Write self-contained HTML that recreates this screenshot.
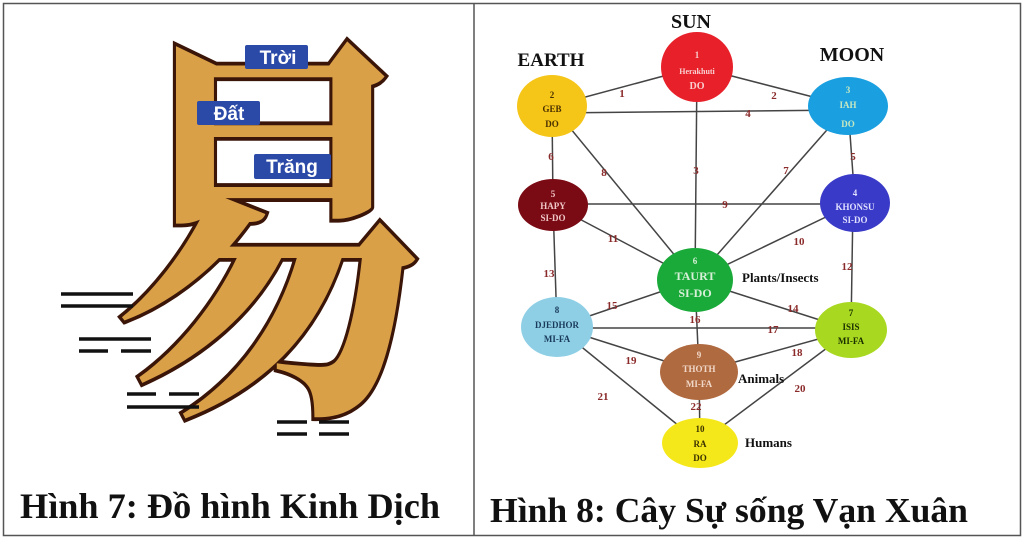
<!DOCTYPE html>
<html><head><meta charset="utf-8"><style>
body{margin:0;width:1024px;height:539px;background:#fff;overflow:hidden}
</style></head><body>
<svg width="1024" height="539" viewBox="0 0 1024 539" xmlns="http://www.w3.org/2000/svg">
<rect x="3.5" y="3.5" width="1017" height="532" fill="#fff" stroke="#555" stroke-width="1.5"/>
<line x1="474" y1="3" x2="474" y2="536" stroke="#555" stroke-width="1.5"/>
<g transform="matrix(0.885 0 0 1.09 35.7 -30.7)">
<text x="268" y="378" font-size="370" text-anchor="middle" font-family="'Noto Serif CJK SC','Noto Sans CJK SC',serif" fill="#d9a048" stroke="#3a1508" stroke-width="7" paint-order="stroke" font-weight="bold">易</text>
</g>
<g fill="#2b4aa8">
<rect x="245" y="45" width="63" height="24" rx="2"/>
<rect x="197" y="101" width="63" height="24" rx="2"/>
<rect x="254" y="154" width="77" height="25" rx="2"/>
</g>
<g fill="#fff" font-family="'Liberation Sans',sans-serif" font-weight="bold" font-size="19" text-anchor="middle">
<text x="278" y="64">Trời</text>
<text x="229" y="120">Đất</text>
<text x="292" y="173">Trăng</text>
</g>
<g stroke="#111" stroke-width="3.5">
<line x1="61" y1="294" x2="133" y2="294"/><line x1="61" y1="306" x2="133" y2="306"/>
<line x1="79" y1="339" x2="151" y2="339"/><line x1="79" y1="351" x2="108" y2="351"/><line x1="121" y1="351" x2="151" y2="351"/>
<line x1="127" y1="394" x2="156" y2="394"/><line x1="169" y1="394" x2="199" y2="394"/><line x1="127" y1="407" x2="199" y2="407"/>
<line x1="277" y1="422" x2="307" y2="422"/><line x1="319" y1="422" x2="349" y2="422"/>
<line x1="277" y1="434" x2="307" y2="434"/><line x1="319" y1="434" x2="349" y2="434"/>
</g>
<text x="20" y="518" font-family="'Liberation Serif',serif" font-weight="bold" font-size="36" fill="#111" textLength="420" lengthAdjust="spacingAndGlyphs">Hình 7: Đồ hình Kinh Dịch</text>
<g stroke="#444" stroke-width="1.5">
<line x1="552" y1="106" x2="697" y2="67"/>
<line x1="697" y1="67" x2="848" y2="106"/>
<line x1="552" y1="113" x2="848" y2="110"/>
<line x1="697" y1="67" x2="695" y2="280"/>
<line x1="552" y1="106" x2="553" y2="205"/>
<line x1="552" y1="106" x2="695" y2="280"/>
<line x1="848" y1="106" x2="695" y2="280"/>
<line x1="848" y1="106" x2="855" y2="203"/>
<line x1="553" y1="204" x2="855" y2="204"/>
<line x1="553" y1="205" x2="695" y2="280"/>
<line x1="855" y1="203" x2="695" y2="280"/>
<line x1="553" y1="205" x2="557" y2="327"/>
<line x1="853" y1="203" x2="851" y2="330"/>
<line x1="557" y1="327" x2="695" y2="280"/>
<line x1="695" y1="280" x2="851" y2="330"/>
<line x1="695" y1="280" x2="699" y2="372"/>
<line x1="557" y1="328" x2="851" y2="328"/>
<line x1="557" y1="327" x2="699" y2="372"/>
<line x1="851" y1="330" x2="699" y2="372"/>
<line x1="557" y1="327" x2="700" y2="443"/>
<line x1="851" y1="330" x2="700" y2="443"/>
<line x1="699" y1="372" x2="700" y2="443"/>
</g>
<g font-family="'Liberation Serif',serif" font-weight="bold" font-size="11" fill="#8b2a2a" text-anchor="middle">
<text x="622" y="97">1</text><text x="774" y="99">2</text><text x="748" y="117">4</text>
<text x="551" y="160">6</text><text x="604" y="176">8</text><text x="696" y="174">3</text>
<text x="786" y="174">7</text><text x="853" y="160">5</text><text x="725" y="208">9</text>
<text x="613" y="242">11</text><text x="799" y="245">10</text><text x="549" y="277">13</text>
<text x="847" y="270">12</text><text x="612" y="309">15</text><text x="793" y="312">14</text>
<text x="695" y="323">16</text><text x="773" y="333">17</text><text x="631" y="364">19</text>
<text x="797" y="356">18</text><text x="603" y="400">21</text><text x="800" y="392">20</text>
<text x="696" y="410">22</text>
</g>
<g>
<ellipse cx="697" cy="67" rx="36" ry="35" fill="#e8202a"/>
<ellipse cx="552" cy="106" rx="35" ry="31" fill="#f5c518"/>
<ellipse cx="848" cy="106" rx="40" ry="29" fill="#1aa0e0"/>
<ellipse cx="553" cy="205" rx="35" ry="26" fill="#7a0a14"/>
<ellipse cx="855" cy="203" rx="35" ry="29" fill="#3a3ac8"/>
<ellipse cx="695" cy="280" rx="38" ry="32" fill="#1aaa3a"/>
<ellipse cx="557" cy="327" rx="36" ry="30" fill="#8ecfe6"/>
<ellipse cx="851" cy="330" rx="36" ry="28" fill="#a8d820"/>
<ellipse cx="699" cy="372" rx="39" ry="28" fill="#b06a40"/>
<ellipse cx="700" cy="443" rx="38" ry="25" fill="#f5e81a"/>
</g>
<g font-family="'Liberation Serif',serif" font-weight="bold" font-size="9" text-anchor="middle">
<g fill="#f8d0d0"><text x="697" y="58">1</text><text x="697" y="74" font-size="8">Herakhuti</text><text x="697" y="89" font-size="10">DO</text></g>
<g fill="#4a3000"><text x="552" y="98">2</text><text x="552" y="112">GEB</text><text x="552" y="127">DO</text></g>
<g fill="#c8e8c0"><text x="848" y="93">3</text><text x="848" y="108">IAH</text><text x="848" y="127">DO</text></g>
<g fill="#f0c8c8"><text x="553" y="197">5</text><text x="553" y="209">HAPY</text><text x="553" y="221">SI-DO</text></g>
<g fill="#e0e0ff"><text x="855" y="196">4</text><text x="855" y="210">KHONSU</text><text x="855" y="223">SI-DO</text></g>
<g fill="#d8f0d8"><text x="695" y="264">6</text><text x="695" y="280" font-size="12">TAURT</text><text x="695" y="297" font-size="12">SI-DO</text></g>
<g fill="#1a3a5a"><text x="557" y="313">8</text><text x="557" y="328">DJEDHOR</text><text x="557" y="342">MI-FA</text></g>
<g fill="#1a3000"><text x="851" y="316">7</text><text x="851" y="330">ISIS</text><text x="851" y="344">MI-FA</text></g>
<g fill="#f0d8c8"><text x="699" y="358">9</text><text x="699" y="372">THOTH</text><text x="699" y="387">MI-FA</text></g>
<g fill="#3a3000"><text x="700" y="432">10</text><text x="700" y="447">RA</text><text x="700" y="461">DO</text></g>
</g>
<g font-family="'Liberation Serif',serif" font-weight="bold" fill="#111">
<text x="691" y="28" font-size="20" text-anchor="middle">SUN</text>
<text x="551" y="66" font-size="19" text-anchor="middle">EARTH</text>
<text x="852" y="61" font-size="20" text-anchor="middle">MOON</text>
<text x="742" y="282" font-size="13">Plants/Insects</text>
<text x="738" y="383" font-size="13">Animals</text>
<text x="745" y="447" font-size="13">Humans</text>
</g>
<text x="490" y="522" font-family="'Liberation Serif',serif" font-weight="bold" font-size="35" fill="#111" textLength="478" lengthAdjust="spacingAndGlyphs">Hình 8: Cây Sự sống Vạn Xuân</text>
</svg>
</body></html>
